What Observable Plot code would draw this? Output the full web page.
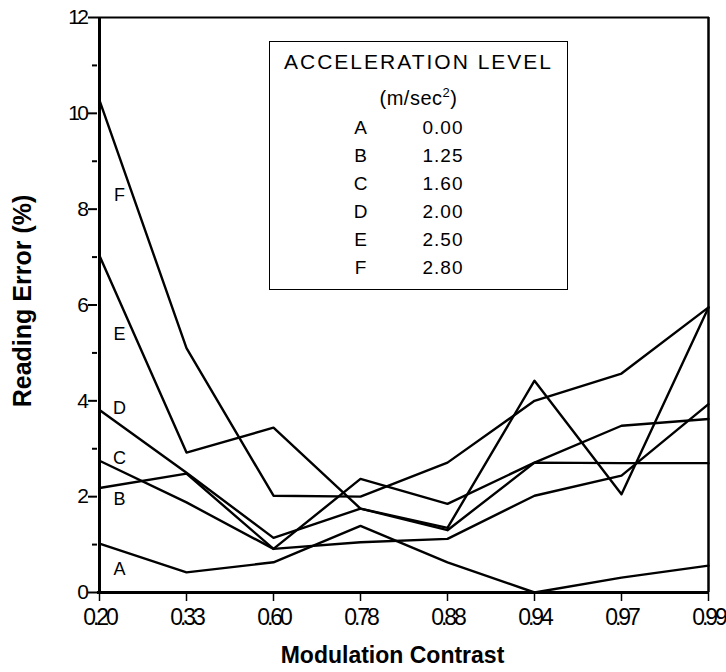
<!DOCTYPE html>
<html>
<head>
<meta charset="utf-8">
<script src="https://cdn.jsdelivr.net/npm/d3@7"></script>
<script src="https://cdn.jsdelivr.net/npm/@observablehq/plot@0.6"></script>
<style>
  html, body { margin: 0; padding: 0; background: #fff; }
  #wrap { position: relative; width: 726px; height: 672px; font-family: "Liberation Sans", Arial, sans-serif; }
  #wrap svg { font-family: "Liberation Sans", Arial, sans-serif; }
  g[aria-label="x-axis tick label"] text { letter-spacing: -3px; }
  g[aria-label="y-axis tick label"] text { letter-spacing: -2.5px; }
  #legend { position: absolute; left: 269px; top: 41px; width: 299px; height: 249px; border: 1.5px solid #000; box-sizing: border-box; color: #000; }
  #legend .title { position: absolute; left: 0; width: 100%; top: 8px; text-align: center; font-size: 21px; letter-spacing: 2px; }
  #legend .unit { position: absolute; left: 0; width: 100%; top: 43px; text-align: center; font-size: 20px; letter-spacing: 0.5px; }
  #legend .row { position: absolute; font-size: 19px; width: 100%; letter-spacing: 1px; }
  #legend .row span { position: absolute; transform: translateX(-50%); }
</style>
</head>
<body>
<div id="wrap"></div>
<script>
// Categories (modulation contrast)
const xLabels = ["0.20", "0.33", "0.60", "0.78", "0.88", "0.94", "0.97", "0.99"];
// Reading error (%) per acceleration level
const seriesA = [1.02, 0.42, 0.63, 1.39, 0.63, 0.00, 0.31, 0.56];
const seriesB = [2.18, 2.48, 0.91, 2.37, 1.85, 2.71, 3.48, 3.62];
const seriesC = [2.75, 1.88, 0.91, 1.05, 1.12, 2.02, 2.44, 3.93];
const seriesD = [3.81, 2.50, 1.14, 1.75, 1.30, 2.71, 2.70, 2.70];
const seriesE = [7.03, 2.92, 3.44, 1.75, 1.35, 4.42, 2.05, 5.95];
const seriesF = [10.27, 5.10, 2.02, 2.00, 2.71, 4.00, 4.57, 5.95];
const seriesNames = ["A", "B", "C", "D", "E", "F"];
const accelLevels = ["0.00", "1.25", "1.60", "2.00", "2.50", "2.80"];
// Where each curve's letter sits beside the first point (reading error units)
const letterY = [0.48, 1.95, 2.8, 3.85, 5.4, 8.3];
const yMajorTicks = [0, 2, 4, 6, 8, 10, 12];
const yMinorTicks = [1, 3, 5, 7, 9, 11];

const allSeries = [seriesA, seriesB, seriesC, seriesD, seriesE, seriesF];
const rows = [];
allSeries.forEach((vals, i) => vals.forEach((v, j) => rows.push({series: seriesNames[i], x: xLabels[j], y: v})));
const letterRows = seriesNames.map((s, i) => ({series: s, x: xLabels[0], y: letterY[i]}));

const chart = Plot.plot({
  width: 726,
  height: 672,
  marginLeft: 97,
  marginRight: 17,
  marginTop: 17,
  marginBottom: 80,
  x: {type: "point", domain: xLabels, padding: 0, label: null},
  y: {domain: [0, 12], label: null},
  marks: [
    Plot.ruleY([12], {stroke: "#000", strokeWidth: 2}),
    Plot.ruleX([xLabels[xLabels.length - 1]], {stroke: "#000", strokeWidth: 2.5}),
    Plot.line(rows, {x: "x", y: "y", z: "series", stroke: "#000", strokeWidth: 2.4}),
    Plot.text(letterRows, {x: "x", y: "y", text: "series", dx: 20, fontSize: 18, fill: "#000"}),
    Plot.axisY({ticks: yMajorTicks, tickSize: 9, tickPadding: 2, fontSize: 21, strokeWidth: 2, stroke: "#000", label: null}),
    Plot.axisY({ticks: yMinorTicks, tickSize: 5, text: null, strokeWidth: 2, stroke: "#000", label: null}),
    Plot.axisX({tickSize: 9, tickPadding: 7, fontSize: 23, strokeWidth: 1.5, stroke: "#000", label: null}),
    Plot.ruleX([xLabels[0]], {stroke: "#000", strokeWidth: 3}),
    Plot.ruleY([0], {stroke: "#000", strokeWidth: 3}),
    Plot.text(["Reading Error (%)"], {frameAnchor: "left", textAnchor: "middle", rotate: -90, dx: -75, dy: -4, fontSize: 25, fontWeight: "bold", fill: "#000"}),
    Plot.text(["Modulation Contrast"], {frameAnchor: "bottom", dy: 70, dx: -11, fontSize: 23, fontWeight: "bold", letterSpacing: "-0.8px", fill: "#000"})
  ]
});
const wrap = document.getElementById("wrap");
wrap.appendChild(chart);

// Legend box
const legend = document.createElement("div");
legend.id = "legend";
let html = '<div class="title">ACCELERATION LEVEL</div><div class="unit">(m/sec<sup style="font-size:13px">2</sup>)</div>';
seriesNames.forEach((s, i) => {
  html += `<div class="row" style="top:${75 + i * 28}px"><span style="left:91px">${s}</span><span style="left:173px">${accelLevels[i]}</span></div>`;
});
legend.innerHTML = html;
wrap.appendChild(legend);
</script>
</body>
</html>
